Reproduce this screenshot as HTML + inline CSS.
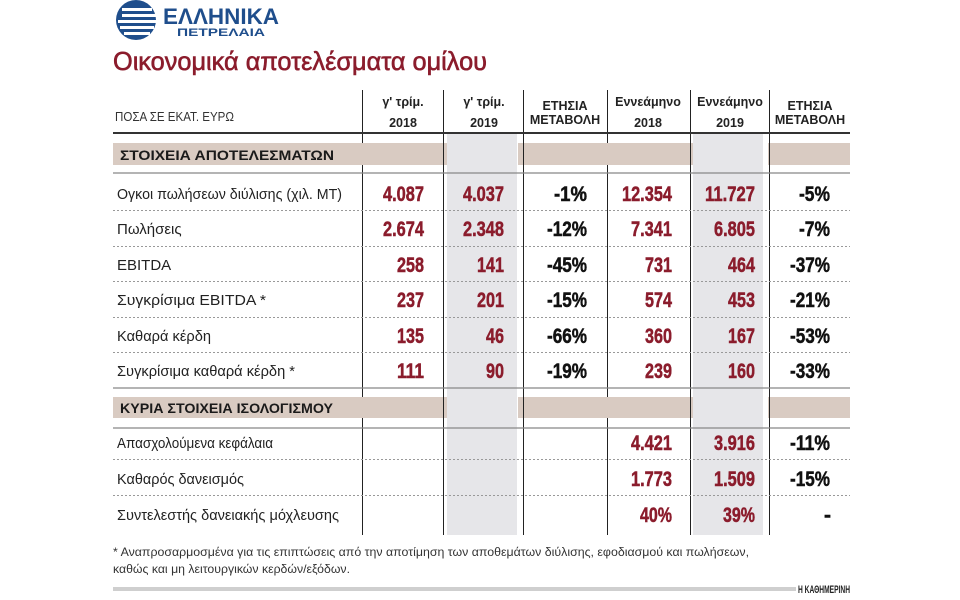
<!DOCTYPE html>
<html><head><meta charset="utf-8"><style>
html,body{margin:0;padding:0;background:#fff;}
svg{display:block;font-family:"Liberation Sans","DejaVu Sans",sans-serif;}
.lbl{font-size:15px;fill:#222;}
.n{font-size:21px;font-weight:bold;fill:#8b1c2c;stroke:#8b1c2c;stroke-width:0.5;}
.p{font-size:21px;font-weight:bold;fill:#111;stroke:#111;stroke-width:0.5;}
.h{font-size:12.5px;font-weight:bold;fill:#222;}
</style></head><body>
<svg width="960" height="600" viewBox="0 0 960 600" xmlns="http://www.w3.org/2000/svg">
<!-- logo -->
<circle cx="136" cy="20" r="20" fill="#1f4e8c"/>
<rect x="122" y="8" width="30" height="3" fill="#fff"/>
<rect x="122" y="14" width="34" height="3" fill="#fff"/>
<rect x="118" y="20" width="38" height="3" fill="#fff"/>
<rect x="120" y="26" width="34" height="3" fill="#fff"/>
<rect x="124" y="32" width="26" height="3" fill="#fff"/>
<text x="163" y="24" font-size="22" font-weight="bold" fill="#1f4e8c" textLength="116" lengthAdjust="spacingAndGlyphs">ΕΛΛΗΝΙΚΑ</text>
<text x="177" y="36" font-size="11" font-weight="bold" fill="#1f4e8c" textLength="88" lengthAdjust="spacingAndGlyphs">ΠΕΤΡΕΛΑΙΑ</text>
<!-- title -->
<text x="113" y="70" font-size="26" fill="#8b1c2c" stroke="#8b1c2c" stroke-width="0.6" textLength="374" lengthAdjust="spacingAndGlyphs">Οικονομικά αποτελέσματα ομίλου</text>

<!-- gray columns -->
<rect x="447" y="134" width="70" height="401" fill="#e6e6e9"/>
<rect x="693" y="134" width="70" height="401" fill="#e6e6e9"/>
<!-- bands -->
<g fill="#d9cbc2">
<rect x="113" y="143" width="334" height="22"/><rect x="518" y="143" width="175" height="22"/><rect x="768" y="143" width="82" height="22"/>
<rect x="113" y="397" width="334" height="21"/><rect x="518" y="397" width="175" height="21"/><rect x="768" y="397" width="82" height="21"/>
</g>
<!-- vertical lines -->
<g stroke="#222" stroke-width="1">
<line x1="362.5" y1="90" x2="362.5" y2="143"/><line x1="362.5" y1="165" x2="362.5" y2="397"/><line x1="362.5" y1="418" x2="362.5" y2="535"/>
<line x1="443.5" y1="90" x2="443.5" y2="535"/>
<line x1="523.5" y1="90" x2="523.5" y2="535"/>
<line x1="607.5" y1="90" x2="607.5" y2="143"/><line x1="607.5" y1="165" x2="607.5" y2="397"/><line x1="607.5" y1="418" x2="607.5" y2="535"/>
<line x1="690.5" y1="90" x2="690.5" y2="535"/>
<line x1="769.5" y1="90" x2="769.5" y2="535"/>
</g>
<!-- horizontal -->
<line x1="113" y1="133" x2="850" y2="133" stroke="#333" stroke-width="2"/>
<line x1="113" y1="173" x2="850" y2="173" stroke="#888" stroke-width="1.2"/>
<line x1="113" y1="388" x2="850" y2="388" stroke="#888" stroke-width="1.2"/>
<line x1="113" y1="428" x2="850" y2="428" stroke="#888" stroke-width="1.2"/>
<g stroke="#999" stroke-width="1" stroke-dasharray="2,2">
<line x1="113" y1="210.5" x2="850" y2="210.5"/><line x1="113" y1="246.5" x2="850" y2="246.5"/>
<line x1="113" y1="281.5" x2="850" y2="281.5"/><line x1="113" y1="317.5" x2="850" y2="317.5"/>
<line x1="113" y1="352.5" x2="850" y2="352.5"/>
<line x1="113" y1="459.5" x2="850" y2="459.5"/><line x1="113" y1="495.5" x2="850" y2="495.5"/>
</g>

<!-- header -->
<text x="115" y="121" font-size="12.5" fill="#333" textLength="119" lengthAdjust="spacingAndGlyphs">ΠΟΣΑ ΣΕ ΕΚΑΤ. ΕΥΡΩ</text>
<g class="h" text-anchor="middle">
<text x="403" y="106">γ' τρίμ.</text><text x="403" y="127">2018</text>
<text x="484" y="106">γ' τρίμ.</text><text x="484" y="127">2019</text>
<text x="565" y="110">ΕΤΗΣΙΑ</text><text x="565" y="124">ΜΕΤΑΒΟΛΗ</text>
<text x="648" y="106">Εννεάμηνο</text><text x="648" y="127">2018</text>
<text x="730" y="106">Εννεάμηνο</text><text x="730" y="127">2019</text>
<text x="810" y="110">ΕΤΗΣΙΑ</text><text x="810" y="124">ΜΕΤΑΒΟΛΗ</text>
</g>
<text x="120" y="160" font-size="14" font-weight="bold" fill="#1a1a1a" textLength="214" lengthAdjust="spacingAndGlyphs">ΣΤΟΙΧΕΙΑ ΑΠΟΤΕΛΕΣΜΑΤΩΝ</text>
<text x="120" y="413" font-size="14" font-weight="bold" fill="#1a1a1a" textLength="213" lengthAdjust="spacingAndGlyphs">ΚΥΡΙΑ ΣΤΟΙΧΕΙΑ ΙΣΟΛΟΓΙΣΜΟΥ</text>

<!-- labels -->
<g class="lbl">
<text x="117" y="199" textLength="225" lengthAdjust="spacingAndGlyphs">Ογκοι πωλήσεων διύλισης (χιλ. MT)</text>
<text x="117" y="234">Πωλήσεις</text>
<text x="117" y="270">EBITDA</text>
<text x="117" y="305" textLength="149" lengthAdjust="spacingAndGlyphs">Συγκρίσιμα EBITDA *</text>
<text x="117" y="341" textLength="94" lengthAdjust="spacingAndGlyphs">Καθαρά κέρδη</text>
<text x="117" y="376" textLength="178" lengthAdjust="spacingAndGlyphs">Συγκρίσιμα καθαρά κέρδη *</text>
<text x="117" y="448" textLength="156" lengthAdjust="spacingAndGlyphs">Απασχολούμενα κεφάλαια</text>
<text x="117" y="484" textLength="127" lengthAdjust="spacingAndGlyphs">Καθαρός δανεισμός</text>
<text x="117" y="520" textLength="222" lengthAdjust="spacingAndGlyphs">Συντελεστής δανειακής μόχλευσης</text>
</g>

<!-- numbers -->
<g text-anchor="end">
<text class="n" x="424" y="201" textLength="41" lengthAdjust="spacingAndGlyphs">4.087</text>
<text class="n" x="504" y="201" textLength="41" lengthAdjust="spacingAndGlyphs">4.037</text>
<text class="p" x="587" y="201" textLength="33" lengthAdjust="spacingAndGlyphs">-1%</text>
<text class="n" x="672" y="201" textLength="50" lengthAdjust="spacingAndGlyphs">12.354</text>
<text class="n" x="755" y="201" textLength="50" lengthAdjust="spacingAndGlyphs">11.727</text>
<text class="p" x="830" y="201" textLength="31" lengthAdjust="spacingAndGlyphs">-5%</text>
<text class="n" x="424" y="236" textLength="41" lengthAdjust="spacingAndGlyphs">2.674</text>
<text class="n" x="504" y="236" textLength="41" lengthAdjust="spacingAndGlyphs">2.348</text>
<text class="p" x="587" y="236" textLength="40" lengthAdjust="spacingAndGlyphs">-12%</text>
<text class="n" x="672" y="236" textLength="41" lengthAdjust="spacingAndGlyphs">7.341</text>
<text class="n" x="755" y="236" textLength="41" lengthAdjust="spacingAndGlyphs">6.805</text>
<text class="p" x="830" y="236" textLength="31" lengthAdjust="spacingAndGlyphs">-7%</text>
<text class="n" x="424" y="272" textLength="27" lengthAdjust="spacingAndGlyphs">258</text>
<text class="n" x="504" y="272" textLength="27" lengthAdjust="spacingAndGlyphs">141</text>
<text class="p" x="587" y="272" textLength="40" lengthAdjust="spacingAndGlyphs">-45%</text>
<text class="n" x="672" y="272" textLength="27" lengthAdjust="spacingAndGlyphs">731</text>
<text class="n" x="755" y="272" textLength="27" lengthAdjust="spacingAndGlyphs">464</text>
<text class="p" x="830" y="272" textLength="40" lengthAdjust="spacingAndGlyphs">-37%</text>
<text class="n" x="424" y="307" textLength="27" lengthAdjust="spacingAndGlyphs">237</text>
<text class="n" x="504" y="307" textLength="27" lengthAdjust="spacingAndGlyphs">201</text>
<text class="p" x="587" y="307" textLength="40" lengthAdjust="spacingAndGlyphs">-15%</text>
<text class="n" x="672" y="307" textLength="27" lengthAdjust="spacingAndGlyphs">574</text>
<text class="n" x="755" y="307" textLength="27" lengthAdjust="spacingAndGlyphs">453</text>
<text class="p" x="830" y="307" textLength="40" lengthAdjust="spacingAndGlyphs">-21%</text>
<text class="n" x="424" y="343" textLength="27" lengthAdjust="spacingAndGlyphs">135</text>
<text class="n" x="504" y="343" textLength="18" lengthAdjust="spacingAndGlyphs">46</text>
<text class="p" x="587" y="343" textLength="40" lengthAdjust="spacingAndGlyphs">-66%</text>
<text class="n" x="672" y="343" textLength="27" lengthAdjust="spacingAndGlyphs">360</text>
<text class="n" x="755" y="343" textLength="27" lengthAdjust="spacingAndGlyphs">167</text>
<text class="p" x="830" y="343" textLength="40" lengthAdjust="spacingAndGlyphs">-53%</text>
<text class="n" x="424" y="378" textLength="27" lengthAdjust="spacingAndGlyphs">111</text>
<text class="n" x="504" y="378" textLength="18" lengthAdjust="spacingAndGlyphs">90</text>
<text class="p" x="587" y="378" textLength="40" lengthAdjust="spacingAndGlyphs">-19%</text>
<text class="n" x="672" y="378" textLength="27" lengthAdjust="spacingAndGlyphs">239</text>
<text class="n" x="755" y="378" textLength="27" lengthAdjust="spacingAndGlyphs">160</text>
<text class="p" x="830" y="378" textLength="40" lengthAdjust="spacingAndGlyphs">-33%</text>
<text class="n" x="672" y="450" textLength="41" lengthAdjust="spacingAndGlyphs">4.421</text>
<text class="n" x="755" y="450" textLength="41" lengthAdjust="spacingAndGlyphs">3.916</text>
<text class="p" x="830" y="450" textLength="40" lengthAdjust="spacingAndGlyphs">-11%</text>
<text class="n" x="672" y="486" textLength="41" lengthAdjust="spacingAndGlyphs">1.773</text>
<text class="n" x="755" y="486" textLength="41" lengthAdjust="spacingAndGlyphs">1.509</text>
<text class="p" x="830" y="486" textLength="40" lengthAdjust="spacingAndGlyphs">-15%</text>
<text class="n" x="672" y="522" textLength="32" lengthAdjust="spacingAndGlyphs">40%</text>
<text class="n" x="755" y="522" textLength="32" lengthAdjust="spacingAndGlyphs">39%</text>
<text class="p" x="831" y="522">-</text>
</g>

<!-- footnote -->
<text x="113" y="556" font-size="12" fill="#333" textLength="636" lengthAdjust="spacingAndGlyphs">* Αναπροσαρμοσμένα για τις επιπτώσεις από την αποτίμηση των αποθεμάτων διύλισης, εφοδιασμού και πωλήσεων,</text>
<text x="113" y="573" font-size="12" fill="#333" textLength="237" lengthAdjust="spacingAndGlyphs">καθώς και μη λειτουργικών κερδών/εξόδων.</text>
<rect x="113" y="587" width="683" height="4" fill="#cfcfcf"/>
<text x="850" y="593" font-size="11" font-weight="bold" fill="#222" text-anchor="end" textLength="52" lengthAdjust="spacingAndGlyphs">Η ΚΑΘΗΜΕΡΙΝΗ</text>
</svg>
</body></html>
